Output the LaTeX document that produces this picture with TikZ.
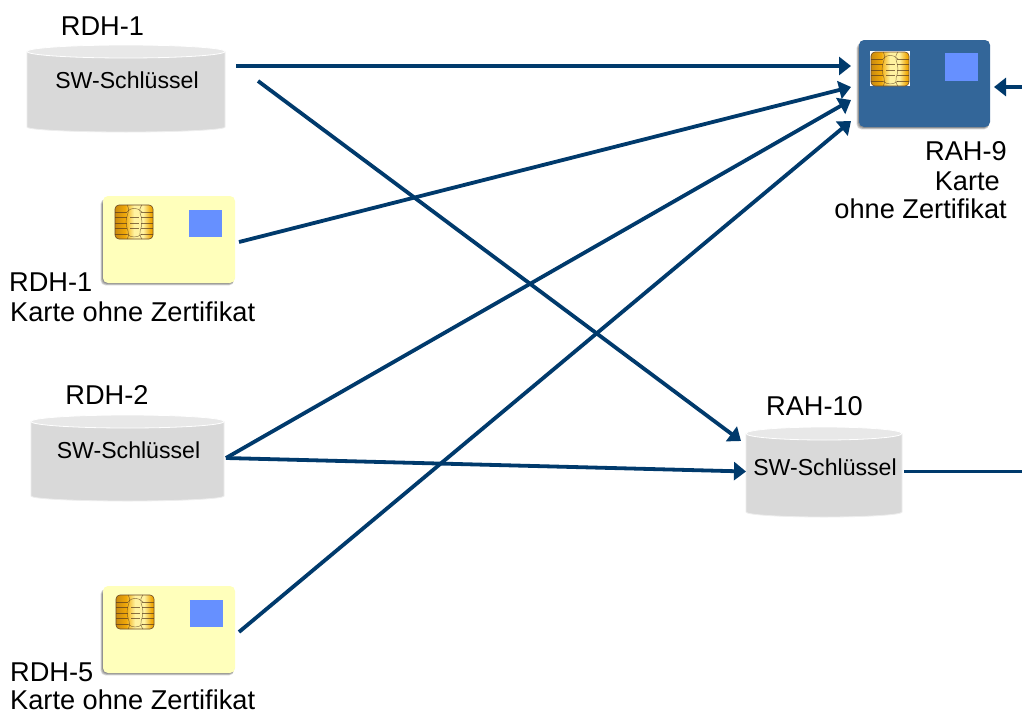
\documentclass[tikz,border=0pt]{standalone}
\usepackage{fontspec}
\setmainfont{Liberation Sans}
\usetikzlibrary{arrows.meta}
\definecolor{linkblue}{HTML}{003A6C}
\definecolor{cylbody}{HTML}{D9D9D9}
\definecolor{cyltop}{HTML}{E8E8E8}
\definecolor{cardyellow}{HTML}{FFFFBB}
\definecolor{cardblue}{HTML}{336699}
\definecolor{patchblue}{HTML}{6690FF}
\definecolor{gold1}{HTML}{C98A10}
\definecolor{gold2}{HTML}{F0A808}
\definecolor{gold3}{HTML}{FFF2A0}
\definecolor{gold4}{HTML}{FFD21E}
\pgfdeclarehorizontalshading{chipgold}{100bp}{
  color(0bp)=(gold1); color(25bp)=(gold1); color(38bp)=(gold2); color(50bp)=(gold3);
  color(62bp)=(gold3); color(72bp)=(gold2); color(85bp)=(gold4); color(100bp)=(gold4)}
\tikzset{
  link/.style={draw=linkblue,line width=3.8pt},
  linkarrow/.style={link,-{Triangle[length=12pt,width=18pt]}},
  lab/.style={font=\fontsize{27.2}{27.2}\selectfont,text=black,inner sep=0pt},
  swlab/.style={font=\fontsize{23.1}{23.1}\selectfont,text=black,inner sep=0pt,anchor=base},
  chipline/.style={draw=black!55!brown,line width=.45pt,opacity=.7},
}
% x, y top, x right, y bottom, name
\newcommand{\cyl}[5]{%
  \pgfmathsetmacro{\cx}{(#1+#3)/2}\pgfmathsetmacro{\rx}{(#3-#1)/2}%
  \fill[cylbody,draw=white!93!black,line width=.8pt] (#1,#2+6.5) -- (#1,#4-5) arc[x radius=\rx,y radius=-5,start angle=180,end angle=360] -- (#3,#2+6.5) -- cycle;
  \fill[cyltop,draw=white,line width=.8pt] (\cx,#2+6.5) ellipse[x radius=\rx,y radius=6.5];
  \coordinate (#5) at (\cx,{(#2+#4)/2});
}
% x1 y1 x2 y2 fill
\newcommand{\card}[5]{%
  \foreach \g in {2.4,1.6,.8}{
    \fill[black,opacity=.17,rounded corners=5pt] (#1-\g,#2+3) rectangle (#3-1,#4+\g);}
  \fill[#5,rounded corners=5pt] (#1,#2) rectangle (#3,#4);
}
% x y: top-left, 38 x 34
\newcommand{\chip}[2]{%
  \begin{scope}[shift={(#1,#2)}]
    \shade[shading=chipgold,rounded corners=4pt,draw=black!45!brown,line width=.6pt] (0,0) rectangle (38,34);
    \foreach \yy in {7,12.5,18,23.5,29}{\draw[chipline] (0,\yy) -- (12,\yy) (26,\yy) -- (38,\yy);}
    \foreach \yy in {12.5,18,23.5}{\draw[chipline] (15,\yy) -- (24,\yy);}
    \draw[chipline] (12,0) .. controls (16,6) and (11,10) .. (11,17) .. controls (11,24) and (16,28) .. (12,34);
    \draw[chipline] (27,0) .. controls (22,6) and (27,10) .. (27,17) .. controls (27,24) and (22,28) .. (27,34);
    \draw[chipline] (12,7) .. controls (16,2) and (22,2) .. (27,7);
    \draw[chipline] (12,29) .. controls (16,33) and (22,33) .. (27,29);
  \end{scope}
}
\begin{document}
\begin{tikzpicture}[x=1pt,y=-1pt]
\useasboundingbox (0,0) rectangle (1022,712);
\fill[white] (0,0) rectangle (1022,712);

% cylinders
\cyl{27}{45}{225}{132}{cylA}
\cyl{31}{415}{224}{501}{cylB}
\cyl{746}{427}{902}{517}{cylC}
\node[swlab] (swA) at (127,88) {SW-Schlüssel};
\node[swlab] (swB) at (128.5,458) {SW-Schlüssel};
\node[swlab] (swC) at (825,475) {SW-Schlüssel};

% cards
\card{103}{196}{235}{283}{cardyellow}
\chip{115}{205}
\fill[patchblue] (189,210) rectangle (222,237);

\card{103}{586}{235}{673}{cardyellow}
\chip{116}{595}
\fill[patchblue] (190,600) rectangle (223,627);

\card{859}{40}{990}{127}{cardblue}
\fill[white] (870,51) rectangle (910,86);
\chip{871}{52}
\fill[patchblue] (945,53) rectangle (978,81);

% labels
\node[lab,anchor=base] (l1) at (102.5,35) {RDH-1};
\node[lab,anchor=base west] (l2) at (9,291) {RDH-1};
\node[lab,anchor=base west] (l3) at (10,321) {Karte ohne Zertifikat};
\node[lab,anchor=base] (l4) at (107,404) {RDH-2};
\node[lab,anchor=base west] (l5) at (10,681) {RDH-5};
\node[lab,anchor=base west] (l6) at (10,709.5) {Karte ohne Zertifikat};
\node[lab,anchor=base] (l7) at (814.5,415) {RAH-10};
\node[lab,anchor=base east] (l8) at (1007,160) {RAH-9};
\node[lab,anchor=base east] (l9) at (1000,190) {Karte};
\node[lab,anchor=base east] (l10) at (1007,218) {ohne Zertifikat};

% connector ends
\coordinate (a1) at (236,66);
\coordinate (a2) at (258,81);
\coordinate (a3) at (239,242);
\coordinate (a4) at (226,458);
\coordinate (a5) at (239,632);
\coordinate (t1) at (851,66);
\coordinate (t2) at (851,87);
\coordinate (t3) at (851,100);
\coordinate (t4) at (851,121);
\coordinate (t5) at (741,441);
\coordinate (t6) at (746,471.5);
\coordinate (t7) at (994,87);
\coordinate (e1) at (1022,87);
\coordinate (c1) at (904,471.5);
\coordinate (e2) at (1022,471.5);

\draw[linkarrow] (a1) -- (t1);
\draw[linkarrow] (a3) -- (t2);
\draw[linkarrow] (a4) -- (t3);
\draw[linkarrow] (a5) -- (t4);
\draw[linkarrow] (a2) -- (t5);
\draw[linkarrow] (a4) -- (t6);
\draw[linkarrow] (e1) -- (t7);
\draw[link] (c1) -- (e2);
\end{tikzpicture}
\end{document}
